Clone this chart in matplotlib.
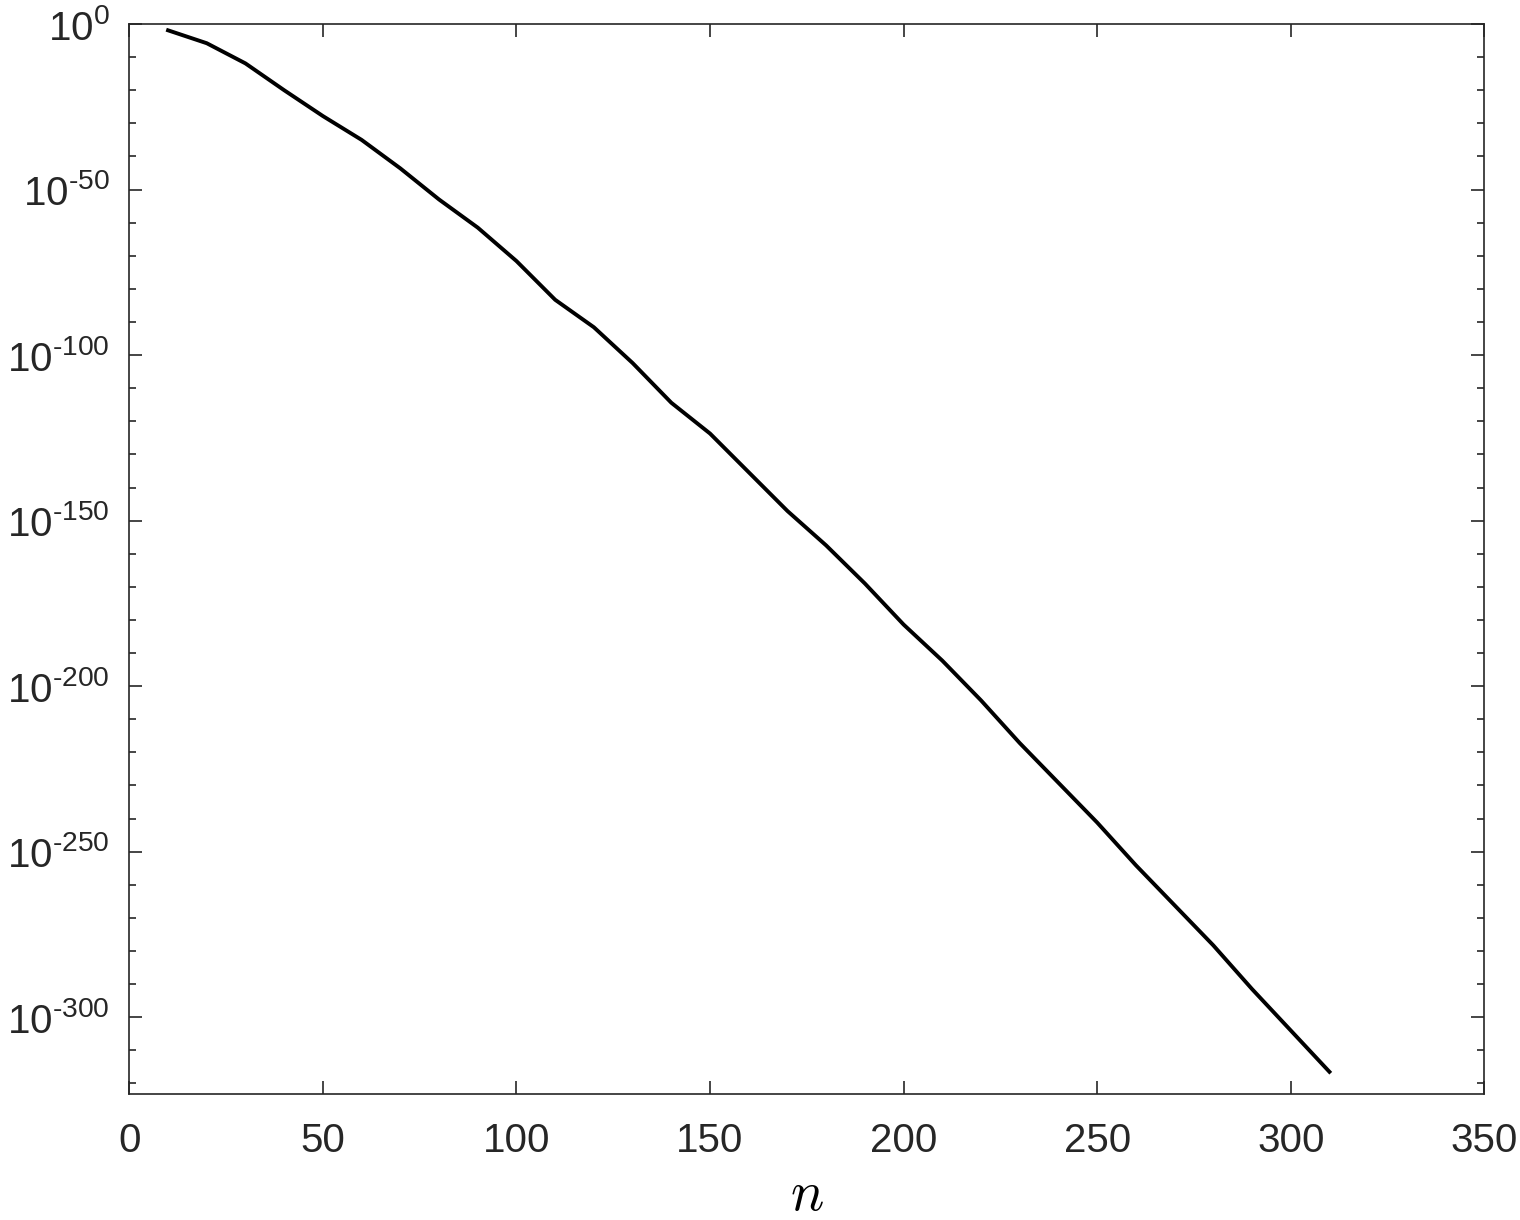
import numpy as np
import matplotlib
matplotlib.use("Agg")
import matplotlib.pyplot as plt
from matplotlib.ticker import FixedLocator, FuncFormatter

# data (log10 of the plotted quantity)
n_vals  = [10, 20, 30, 40, 50, 60, 70, 80, 90, 100,
           110, 120, 130, 140, 150, 160, 170, 180, 190, 200,
           210, 220, 230, 240, 250, 260, 270, 280, 290, 300, 310]
log_err = [-1.9, -5.8, -11.9, -20.0, -27.8, -35.0, -43.6, -53.0, -61.5, -71.6,
           -83.3, -91.6, -102.4, -114.4, -123.7, -135.4, -147.1, -157.5, -169.0, -181.4,
           -192.3, -204.3, -217.2, -229.2, -241.2, -254.1, -266.2, -278.3, -291.5, -304.0, -316.5]
major_exp = [0, -50, -100, -150, -200, -250, -300]
x_ticks   = [0, 50, 100, 150, 200, 250, 300, 350]

plt.rcParams['font.family'] = ['Liberation Sans', 'DejaVu Sans']
plt.rcParams['mathtext.fontset'] = 'cm'

grey = '#262626'
fig = plt.figure(figsize=(15.2, 12.2), dpi=100)
ax = fig.add_axes([0.0851, 0.1030, 0.8914, 0.8773])

err = [10.0 ** e for e in log_err]
ax.plot(n_vals, err, color='k', lw=2.8)

ax.set_yscale('log')
ax.set_xlim(0, 350)
ax.set_ylim(5e-324, 1)
ax.set_xticks(x_ticks)


def exp_label(v, pos):
    k = int(round(np.log10(v)))
    s = str(abs(k))
    if k < 0:
        s = '\u2010' + s    # matlab shows a short hyphen, not a minus
    return r'$\mathregular{10^{%s}}$' % s


minor_exp = [e for e in range(0, -324, -10) if e % 50 != 0]
ax.yaxis.set_major_locator(FixedLocator([10.0 ** e for e in major_exp]))
ax.yaxis.set_minor_locator(FixedLocator([10.0 ** e for e in minor_exp]))
ax.yaxis.set_major_formatter(FuncFormatter(exp_label))
ax.yaxis.set_minor_formatter(FuncFormatter(lambda v, pos: ''))

ax.tick_params(which='both', direction='in', top=True, right=True,
               color=grey, width=1.2, labelcolor=grey, labelsize=29)
ax.tick_params(which='major', length=9.5)
ax.tick_params(which='minor', length=5)
ax.tick_params(axis='y', pad=14)
ax.tick_params(axis='x', pad=20)
ax.tick_params(axis='x', which='minor', bottom=False, top=False)
for s in ax.spines.values():
    s.set_color(grey)
    s.set_linewidth(1.2)

ax.set_xlabel(r'$n$', fontsize=40, labelpad=7)

fig.savefig('out.png', dpi=100)
